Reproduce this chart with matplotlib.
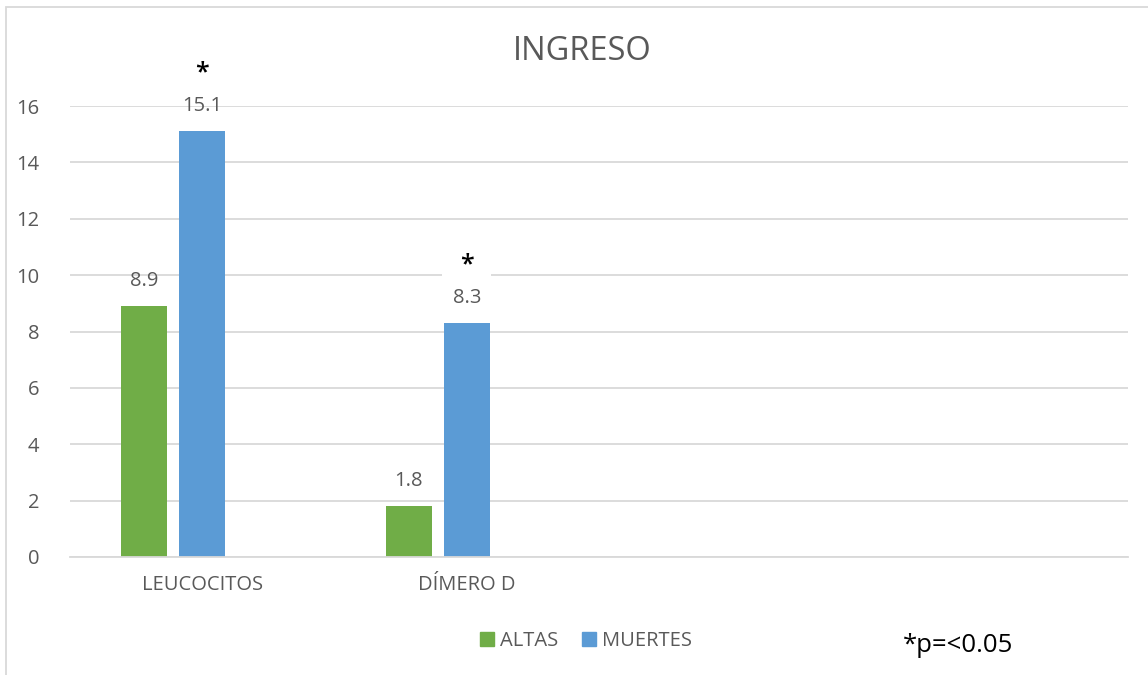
import matplotlib
matplotlib.use("Agg")
import matplotlib.pyplot as plt
from matplotlib.patches import Rectangle, Patch
import numpy as np

plt.rcParams['font.family'] = ['Open Sans', 'DejaVu Sans']

categories = ["LEUCOCITOS", "DÍMERO D", "", ""]
altas = [8.9, 1.8, None, None]
muertes = [15.1, 8.3, None, None]
serie3 = [None, None, None, None]
significant = [True, True, False, False]
yticks = [0, 2, 4, 6, 8, 10, 12, 14, 16]

GREEN = "#70AD47"
BLUE = "#5B9BD5"
TXT = "#595959"
GRID = "#D9D9D9"

W, H = 1148, 675
fig = plt.figure(figsize=(W / 100, H / 100), dpi=100)
ax = fig.add_axes([70 / W, 1 - 557 / H, (1128 - 70) / W, (557 - 106) / H])

x = np.arange(len(categories))
bw = 0.174
off = 0.219
FS = 14.5

for i, (a, m) in enumerate(zip(altas, muertes)):
    if a is not None:
        ax.bar(x[i] - off, a, bw, color=GREEN, zorder=2)
        ax.annotate(f"{a}", (x[i] - off, a), xytext=(0, 18), textcoords="offset points",
                    ha="center", va="center", fontsize=FS, color=TXT, zorder=6)
    if m is not None:
        ax.bar(x[i], m, bw, color=BLUE, zorder=2)
        ax.annotate(f"{m}", (x[i], m), xytext=(0, 18), textcoords="offset points",
                    ha="center", va="center", fontsize=FS, color=TXT, zorder=6)
        if significant[i]:
            ax.annotate("*", (x[i], m), xytext=(0, 42), textcoords="offset points",
                        ha="center", va="center", fontsize=18, color="black", fontweight="semibold",
                        bbox=dict(boxstyle="square,pad=0.7", fc="white", ec="none"), zorder=5)

ax.set_xlim(-0.5, len(categories) - 0.5)
ax.set_ylim(0, 16)
ax.set_yticks(yticks)
ax.set_yticklabels([str(t) for t in yticks])
ax.set_xticks(x)
ax.set_xticklabels(categories)
ax.grid(axis="y", color=GRID, linewidth=1.3, zorder=0)
ax.set_axisbelow(True)
for s in ["top", "right", "left"]:
    ax.spines[s].set_visible(False)
ax.spines["bottom"].set_color(GRID)
ax.spines["bottom"].set_linewidth(1.3)
ax.tick_params(axis="both", length=0, labelsize=FS, labelcolor=TXT)
ax.tick_params(axis="y", pad=22)
ax.tick_params(axis="x", pad=13)

fig.text(582 / W, 1 - 52 / H, "INGRESO", ha="center", va="center", fontsize=23.5, color=TXT)

# legend
handles = [Patch(color=GREEN, label="ALTAS"), Patch(color=BLUE, label="MUERTES")]
fig.legend(handles=handles, loc="center", bbox_to_anchor=(586 / W, 1 - 641 / H), ncol=2,
           frameon=False, fontsize=FS, labelcolor=TXT, handlelength=0.7, handleheight=0.7,
           handletextpad=0.3, columnspacing=1.2)

fig.text(903 / W, 1 - 645 / H, "*p=<0.05", ha="left", va="center", fontsize=18.5, color="black")

# chart border
fig.add_artist(Rectangle((6 / W, -0.01), 1.2, 1 - 7 / H + 0.01, transform=fig.transFigure,
                         fill=False, ec=GRID, lw=1.3))

fig.savefig("out.png", dpi=100)
